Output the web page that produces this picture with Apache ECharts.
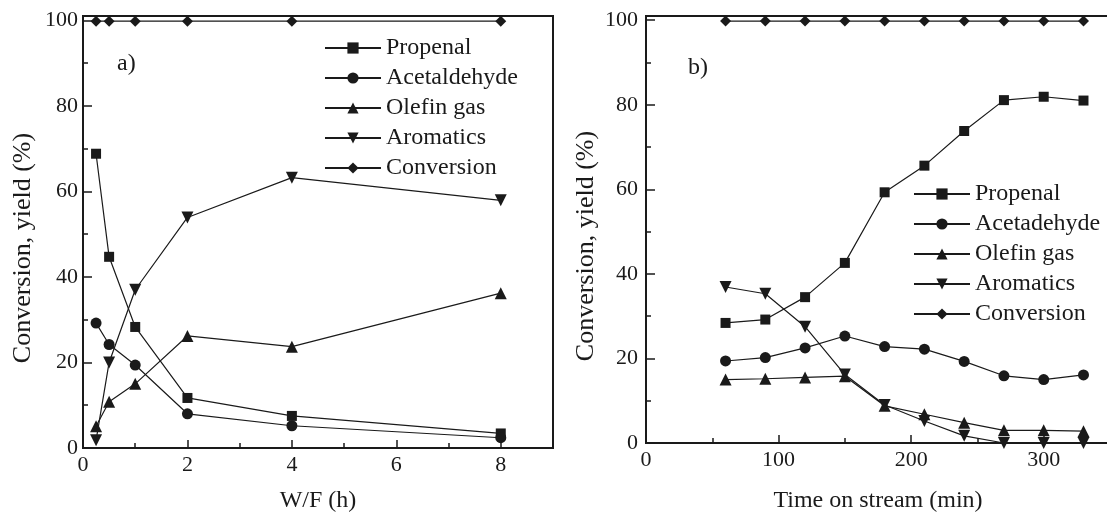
<!DOCTYPE html>
<html lang="en">
<head>
<meta charset="UTF-8">
<title>Conversion and yield</title>
<script src="https://cdn.jsdelivr.net/npm/echarts@6/dist/echarts.min.js"></script>
</head>
<body style="margin:0;background:#fff;">
<div id="main" style="width:1107px;height:513px;"></div>
<script type="text/javascript">
// panel a) W/F (h)
const wf = [0.25, 0.5, 1, 2, 4, 8];
const aPropenal = [68.8, 44.7, 28.3, 11.7, 7.5, 3.4];
const aAcetaldehyde = [29.2, 24.2, 19.4, 8.0, 5.2, 2.4];
const aOlefin = [5.1, 10.8, 15.0, 26.2, 23.7, 36.2];
const aAromatics = [1.8, 20.0, 37.0, 53.9, 63.2, 57.9];
const aConversion = [99.8, 99.8, 99.8, 99.8, 99.8, 99.8];

// panel b) time on stream (min)
const tos = [60, 90, 120, 150, 180, 210, 240, 270, 300, 330];
const bPropenal = [28.4, 29.2, 34.5, 42.6, 59.3, 65.6, 73.8, 81.1, 81.9, 81.0];
const bAcetadehyde = [19.4, 20.2, 22.5, 25.3, 22.8, 22.2, 19.3, 15.9, 15.0, 16.1];
const bOlefin = [15.0, 15.2, 15.5, 15.8, 8.8, 6.8, 4.8, 3.0, 3.0, 2.8];
const bAromatics = [36.9, 35.3, 27.5, 16.2, 9.0, 5.2, 1.7, 0, 0, 0];
const bConversion = [99.8, 99.8, 99.8, 99.8, 99.8, 99.8, 99.8, 99.8, 99.8, 99.8];

const namesA = ['Propenal', 'Acetaldehyde', 'Olefin gas', 'Aromatics', 'Conversion'];
const namesB = ['Propenal', 'Acetadehyde', 'Olefin gas', 'Aromatics', 'Conversion'];
const yName = 'Conversion, yield (%)';

const ink = '#1a1a1a';
const font = 'Liberation Serif';
const downTri = 'path://M0,0 L10,0 L5,9 Z';
const symbols = ['rect', 'circle', 'triangle', downTri, 'diamond'];
const sizes = [10, 11, 12, 12, 11];

function pairs(xs, ys) {
    return xs.map((x, i) => [x, ys[i]]);
}

function makeSeries(names, xs, lists, idx) {
    return names.map((name, k) => ({
        name: name,
        type: 'line',
        xAxisIndex: idx,
        yAxisIndex: idx,
        data: pairs(xs, lists[k]),
        symbol: symbols[k],
        symbolSize: sizes[k],
        showAllSymbol: true,
        lineStyle: { color: ink, width: 1.2 },
        itemStyle: { color: ink, borderWidth: 0 },
        emphasis: { disabled: true },
        animation: false,
        z: 3
    }));
}

function yAxisOf(idx) {
    return {
        type: 'value',
        gridIndex: idx,
        min: 0,
        max: 101,
        interval: 20,
        axisLine: { show: true, lineStyle: { color: ink, width: 2 } },
        axisTick: { inside: true, length: 9, lineStyle: { color: ink, width: 1.5 } },
        minorTick: { show: true, splitNumber: 2, length: 5, lineStyle: { color: ink, width: 1.5 } },
        axisLabel: {
            margin: idx === 0 ? 5 : 8,
            fontFamily: font, fontSize: 22, color: ink,
            formatter: v => (v % 20 === 0 ? String(v) : '')
        },
        splitLine: { show: false }
    };
}

function xAxisOf(idx, max, step, name, gap) {
    return {
        type: 'value',
        gridIndex: idx,
        min: 0,
        max: max,
        interval: step,
        name: name,
        nameLocation: 'middle',
        nameGap: gap,
        nameTextStyle: { fontFamily: font, fontSize: 24, color: ink },
        axisLine: { show: true, onZero: false, lineStyle: { color: ink, width: 2 } },
        axisTick: { inside: true, length: 8, lineStyle: { color: ink, width: 1.5 } },
        minorTick: { show: true, splitNumber: 2, length: 5, lineStyle: { color: ink, width: 1.5 } },
        axisLabel: {
            margin: 6,
            fontFamily: font, fontSize: 22, color: ink,
            formatter: v => (v % step === 0 ? String(v) : '')
        },
        splitLine: { show: false }
    };
}

function legendOf(names, left, top) {
    return {
        data: names,
        orient: 'vertical',
        left: left,
        top: top,
        padding: 0,
        itemWidth: 56,
        itemHeight: 14,
        itemGap: 6,
        itemTextGap: 5,
        selectedMode: false,
        textStyle: { fontFamily: font, fontSize: 24, color: ink, lineHeight: 24 }
    };
}

function yTitle(x, y) {
    return {
        type: 'text',
        x: x,
        y: y,
        rotation: Math.PI / 2,
        style: {
            text: yName,
            font: '26px "Liberation Serif"',
            fill: ink,
            align: 'center',
            verticalAlign: 'middle'
        }
    };
}

let myChart = echarts.init(document.getElementById('main'));

let options = {
    backgroundColor: '#fff',
    animation: false,
    title: [
        { text: 'a)', left: 112, top: 47, textStyle: { fontFamily: font, fontSize: 24, fontWeight: 'normal', color: ink } },
        { text: 'b)', left: 683, top: 51, textStyle: { fontFamily: font, fontSize: 24, fontWeight: 'normal', color: ink } }
    ],
    legend: [
        legendOf(namesA, 324, 36),
        legendOf(namesB, 913, 182)
    ],
    graphic: [yTitle(23, 248), yTitle(586, 246)],
    grid: [
        { left: 83, top: 16, right: 554, bottom: 65, outerBoundsMode: 'none', show: true, borderColor: ink, borderWidth: 2, backgroundColor: 'transparent' },
        { left: 646, top: 16, right: -3, bottom: 70, outerBoundsMode: 'none', show: true, borderColor: ink, borderWidth: 2, backgroundColor: 'transparent' }
    ],
    xAxis: [
        xAxisOf(0, 9, 2, 'W/F (h)', 41),
        xAxisOf(1, 350, 100, 'Time on stream (min)', 46)
    ],
    yAxis: [yAxisOf(0), yAxisOf(1)],
    series: [
        ...makeSeries(namesA, wf, [aPropenal, aAcetaldehyde, aOlefin, aAromatics, aConversion], 0),
        ...makeSeries(namesB, tos, [bPropenal, bAcetadehyde, bOlefin, bAromatics, bConversion], 1)
    ]
};

myChart.setOption(options);

window.addEventListener('resize', () => {
    myChart.resize();
});
</script>
</body>
</html>
